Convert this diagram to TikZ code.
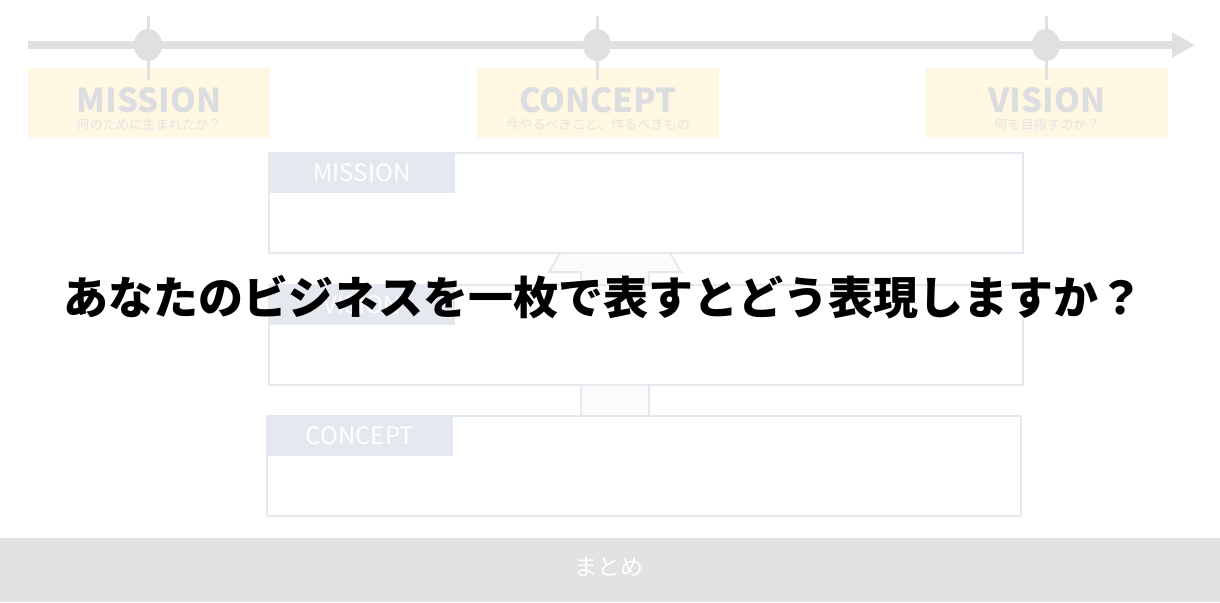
\documentclass[tikz,border=0pt]{standalone}
\usepackage{fontspec}
\setmainfont{Noto Sans CJK JP}
\usepackage{xcolor}
\usetikzlibrary{arrows.meta}
\usetikzlibrary{positioning}
\definecolor{linegray}{HTML}{E0E0E0}
\definecolor{paleyellow}{HTML}{FFF7E1}
\definecolor{titlegray}{HTML}{DCDDE1}
\definecolor{subgray}{HTML}{E4E4E4}
\definecolor{tabblue}{HTML}{E4E8EF}
\definecolor{arrowfill}{HTML}{FBFBFC}
\definecolor{bargray}{HTML}{E2E2E2}

\begin{document}
\begin{tikzpicture}[x=0.5pt,y=-0.5pt,
  phase/.style={fill=paleyellow, minimum width=121pt, minimum height=35pt, inner sep=0pt},
  phasetitle/.style={text=titlegray, inner sep=0pt, font=\bfseries\fontsize{16.5}{17}\selectfont},
  phasesub/.style={text=subgray, inner sep=0pt, font=\fontsize{6.6}{7}\selectfont},
  frame/.style={draw=tabblue, line width=1pt, fill=white, minimum width=377pt, minimum height=50pt, anchor=north west, inner sep=0pt},
  tab/.style={fill=tabblue, text=white, minimum width=93.5pt, minimum height=20.5pt, anchor=north west, inner sep=0pt, font=\fontsize{12}{12}\selectfont}]
\useasboundingbox (0,0) rectangle (1220,602);
\fill[white] (0,0) rectangle (1220,602);
\node[phase] (mission) at (149,103) {};
\node[phase] (concept) at (598,103) {};
\node[phase] (vision) at (1047,103) {};
\coordinate (start) at (28,45);
\coordinate (end) at (1195,45);
\draw[linegray, line width=4pt, -{Triangle[length=11.5pt,width=12pt]}] (start) -- (end);
\foreach \x in {148,597,1046}{
  \draw[linegray, line width=1.5pt] (\x,16) -- (\x,80);
  \fill[linegray] (\x,45) ellipse (7pt and 8pt);
}
\node[phasetitle] (missiontitle) at (149,100) {MISSION};
\node[phasesub] (missionsub) at (149,124) {何のために生まれたか？};
\node[phasetitle] (concepttitle) at (598,100) {CONCEPT};
\node[phasesub] (conceptsub) at (598,124) {今やるべきこと、作るべきもの};
\node[phasetitle] (visiontitle) at (1047,100) {VISION};
\node[phasesub] (visionsub) at (1047,124) {何を目指すのか？};
\draw[tabblue, fill=arrowfill, line width=1pt] (581,430) -- (581,272) -- (549,272) -- (615,157) -- (681,272) -- (649,272) -- (649,430) -- cycle;
\node[frame] (missionbox) at (268,152) {};
\node[tab] (missiontab) at (268,152) {MISSION};
\node[frame] (visionbox) at (268,284) {};
\node[tab] (visiontab) at (268,284) {VISION};
\node[frame] (conceptbox) at (266,415) {};
\node[tab] (concepttab) at (266,415) {CONCEPT};
\node[fill=bargray, minimum width=610pt, minimum height=32pt, anchor=north west, inner sep=0pt] (summary) at (0,538) {};
\node[text=white, inner sep=0pt, font=\fontsize{11.5}{12}\selectfont] (summarytext) at (609,567) {まとめ};
\node[font=\bfseries\fontsize{22.5}{23}\selectfont, inner sep=0pt] (question) at (603,297) {あなたのビジネスを一枚で表すとどう表現しますか？};
\end{tikzpicture}
\end{document}
